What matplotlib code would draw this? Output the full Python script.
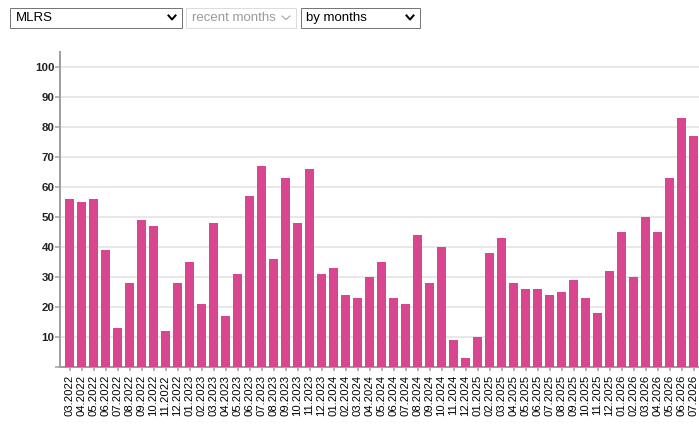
import matplotlib.pyplot as plt
from matplotlib.patches import Rectangle
from matplotlib.lines import Line2D

W, H = 699, 433

# monthly values, 03.2022 .. 07.2026
months = ["03.2022", "04.2022", "05.2022", "06.2022", "07.2022", "08.2022", "09.2022",
          "10.2022", "11.2022", "12.2022",
          "01.2023", "02.2023", "03.2023", "04.2023", "05.2023", "06.2023", "07.2023",
          "08.2023", "09.2023", "10.2023", "11.2023", "12.2023",
          "01.2024", "02.2024", "03.2024", "04.2024", "05.2024", "06.2024", "07.2024",
          "08.2024", "09.2024", "10.2024", "11.2024", "12.2024",
          "01.2025", "02.2025", "03.2025", "04.2025", "05.2025", "06.2025", "07.2025",
          "08.2025", "09.2025", "10.2025", "11.2025", "12.2025",
          "01.2026", "02.2026", "03.2026", "04.2026", "05.2026", "06.2026", "07.2026"]
counts = [56, 55, 56, 39, 13, 28, 49, 47, 12, 28,
          35, 21, 48, 17, 31, 57, 67, 36, 63, 48, 66, 31,
          33, 24, 23, 30, 35, 23, 21, 44, 28, 40, 9, 3,
          10, 38, 43, 28, 26, 26, 24, 25, 29, 23, 18, 32,
          45, 30, 50, 45, 63, 83, 77]
y_ticks = [10, 20, 30, 40, 50, 60, 70, 80, 90, 100]

# dropdowns at the top: (left, right, text, enabled)
selects = [(10, 182, "MLRS", True),
           (186, 296, "recent months", False),
           (301, 420, "by months", True)]

bar_color = "#d8468f"
axis_color = "#a0a0a0"
grid_color = "#e8e8e8"


def pt(px):
    return px * 72 / 100


def fx(x):
    return x / W


def fy(y):
    return 1 - y / H


fig = plt.figure(figsize=(W / 100, H / 100), dpi=100)
plt.rcParams['font.family'] = ['Liberation Sans', 'DejaVu Sans']

# plot area in pixels: x 60..699, y 52..367
ax = fig.add_axes([fx(60), fy(367), (W - 60) / W, (367 - 52) / H])
x = list(range(len(months)))
ax.bar(x, counts, width=0.75, color=bar_color, zorder=3)
ax.set_xlim(-9.5 / 12, (W - 69.5) / 12)
ax.set_ylim(0, 105)

ax.set_yticks([0] + y_ticks)
ax.set_yticklabels([""] + [str(v) for v in y_ticks])
ax.set_xticks(x)
ax.set_xticklabels(months, rotation=90, va="top", ha="center")

for t in y_ticks:
    ax.axhline(t, color=grid_color, lw=pt(2), zorder=1)

for side in ["top", "right"]:
    ax.spines[side].set_visible(False)
for side in ["left", "bottom"]:
    ax.spines[side].set_color(axis_color)
    ax.spines[side].set_linewidth(pt(2))

ax.tick_params(axis="y", length=pt(5), width=pt(1.5), color=axis_color, pad=pt(0.5),
               labelsize=pt(11.5), labelcolor="#222222")
ax.tick_params(axis="x", length=pt(4), width=pt(1.5), color=axis_color, pad=pt(4),
               labelsize=pt(11.3), labelcolor="#000000")
for lbl in ax.get_yticklabels():
    lbl.set_fontweight("bold")

# dropdown boxes
for left, right, label, enabled in selects:
    edge = "#767676" if enabled else "#dcdcdc"
    txt = "#000000" if enabled else "#9a9a9a"
    fig.patches.append(Rectangle((fx(left), fy(27.5)), (right - left) / W, 19.5 / H,
                                 transform=fig.transFigure, facecolor="white",
                                 edgecolor=edge, lw=pt(1)))
    fig.text(fx(left + 5.5), fy(18), label, fontsize=pt(13.3), color=txt,
             va="center", ha="left")
    cx = right - 10
    if enabled:
        xs = [cx - 3.5, cx, cx + 3.5]
        ys = [15.5, 19.5, 15.5]
        lw = 2
    else:
        xs = [cx - 4, cx, cx + 4]
        ys = [16, 19.5, 16]
        lw = 1
    fig.lines.append(Line2D([fx(v) for v in xs], [fy(v) for v in ys],
                            transform=fig.transFigure, color=txt, lw=pt(lw)))

fig.savefig("out.png", dpi=100)
